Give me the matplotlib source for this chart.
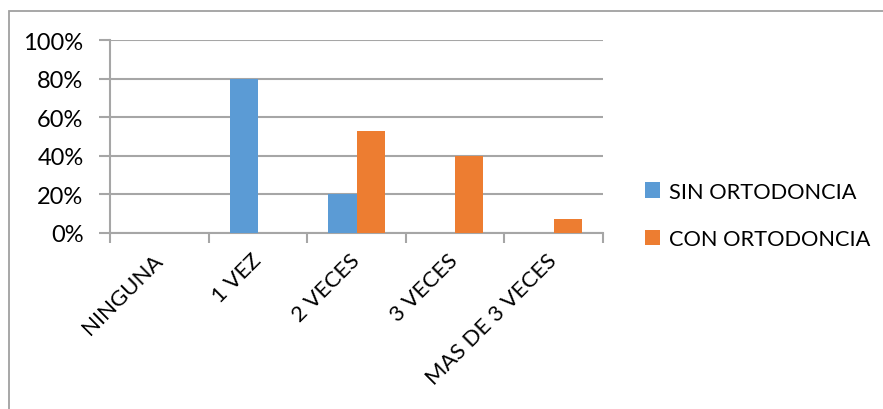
import matplotlib
matplotlib.use("Agg")
import matplotlib.pyplot as plt
import numpy as np
from matplotlib.patches import Rectangle
from matplotlib.ticker import FixedLocator, NullFormatter

categories = ["NINGUNA", "1 VEZ", "2 VECES", "3 VECES", "MAS DE 3 VECES"]
sin_ortodoncia = [0, 80, 20, 0, 0]
con_ortodoncia = [0, 0, 53, 40, 7]
series_names = ["SIN ORTODONCIA", "CON ORTODONCIA"]
y_ticks = [0, 20, 40, 60, 80, 100]
y_tick_labels = ["0%", "20%", "40%", "60%", "80%", "100%"]

BLUE = "#5B9BD5"
ORANGE = "#ED7D31"
GRID = "#A6A6A6"
FONT = "Lato"
FS_Y = 17
FS_X = 16
FS_LEG = 15.7

W, H = 883, 410
fig = plt.figure(figsize=(W / 100, H / 100), dpi=100)

# outer chart border
fig.patches.append(Rectangle((8.5 / W, -0.1), 1.2, (H - 11.5) / H + 0.1,
                             transform=fig.transFigure, fill=False,
                             edgecolor="#A0A0A0", linewidth=1.3))

ax = fig.add_axes([110 / W, (H - 234) / H, (603 - 110) / W, (234 - 41) / H])
x = np.arange(len(categories))
bw = 0.285
ax.bar(x - bw / 2, sin_ortodoncia, width=bw, color=BLUE, label=series_names[0], zorder=3)
ax.bar(x + bw / 2, con_ortodoncia, width=bw, color=ORANGE, label=series_names[1], zorder=3)

ax.set_xlim(-0.5, len(categories) - 0.5)
ax.set_ylim(0, 100)
ax.set_yticks(y_ticks)
ax.set_yticklabels(y_tick_labels, fontfamily=FONT, fontsize=FS_Y)
ax.yaxis.grid(True, color=GRID, linewidth=1.5, zorder=0)
ax.tick_params(axis="y", length=8, width=1.5, color=GRID, pad=11)

# category boundary ticks
ax.xaxis.set_major_locator(FixedLocator(np.arange(len(categories) + 1) - 0.5))
ax.xaxis.set_major_formatter(NullFormatter())
ax.xaxis.set_minor_locator(FixedLocator(x))
ax.set_xticklabels(categories, minor=True, rotation=45, ha="right", va="center",
                   rotation_mode="anchor", fontfamily=FONT, fontsize=FS_X)
ax.tick_params(axis="x", which="major", length=7, width=1.5, color=GRID)
ax.tick_params(axis="x", which="minor", length=0, pad=17)

for s in ["top", "right"]:
    ax.spines[s].set_visible(False)
ax.spines["left"].set_color(GRID)
ax.spines["left"].set_linewidth(1.5)
ax.spines["bottom"].set_color(GRID)
ax.spines["bottom"].set_linewidth(1.5)
ax.spines["left"].set_bounds(0, 100)

leg = fig.legend(loc="upper left", bbox_to_anchor=(636 / W, (H - 174) / H),
                 frameon=False, prop={"family": FONT, "size": FS_LEG},
                 handlelength=0.72, handleheight=0.72, handletextpad=0.4,
                 labelspacing=1.25, borderaxespad=0)

fig.savefig("out.png", dpi=100)
